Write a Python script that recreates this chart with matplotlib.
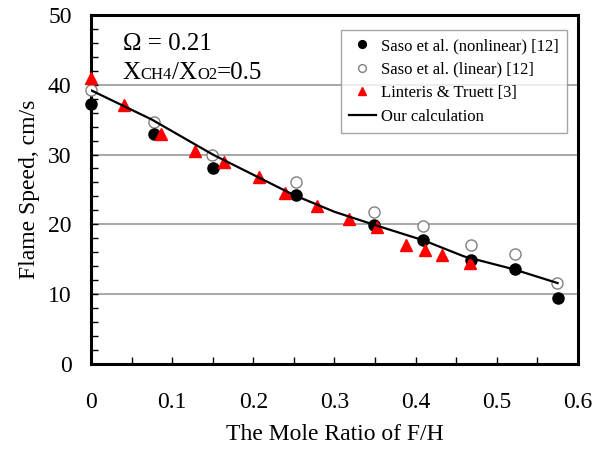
import matplotlib
matplotlib.use("Agg")
import matplotlib.pyplot as plt
from matplotlib.offsetbox import TextArea, HPacker, AnchoredOffsetbox
from matplotlib.ticker import MultipleLocator

plt.rcParams['font.family'] = ['Liberation Serif', 'DejaVu Serif']

# Saso et al. nonlinear
x_nonlin = [0.0, 0.077, 0.150, 0.252, 0.349, 0.409, 0.468, 0.522, 0.575]
y_nonlin = [37.3, 32.9, 28.0, 24.2, 19.9, 17.7, 14.9, 13.6, 9.5]

# Saso et al. linear
x_lin = [0.0, 0.078, 0.149, 0.252, 0.349, 0.409, 0.468, 0.522, 0.574]
y_lin = [39.3, 34.7, 30.0, 26.0, 21.8, 19.7, 17.0, 15.7, 11.6]

# Linteris & Truett
x_lt = [0.0, 0.040, 0.086, 0.128, 0.164, 0.207, 0.239, 0.279, 0.318, 0.353,
        0.388, 0.411, 0.433, 0.467]
y_lt = [40.9, 37.1, 33.0, 30.5, 28.9, 26.8, 24.5, 22.6, 20.7, 19.6,
        17.1, 16.4, 15.6, 14.4]

# our calculation
x_calc = [0.0, 0.075, 0.15, 0.25, 0.30, 0.35, 0.41, 0.46, 0.52, 0.575]
y_calc = [39.2, 35.0, 30.0, 24.2, 21.8, 19.9, 17.7, 15.4, 13.6, 11.6]

fig = plt.figure(figsize=(6.07, 4.5), dpi=100)
ax = fig.add_axes([0.150, 0.191, 0.802, 0.776])

ax.grid(axis='y', which='major', color='#a0a0a0', linewidth=1.3)
ax.set_axisbelow(True)

ax.plot(x_nonlin, y_nonlin, 'o', color='black', markersize=8,
        linestyle='none', label='Saso et al. (nonlinear) [12]', clip_on=False, zorder=4)
ax.plot(x_lin, y_lin, 'o', markerfacecolor='white', markeredgecolor='#808080',
        markeredgewidth=1.0, markersize=8, linestyle='none',
        label='Saso et al. (linear) [12]', clip_on=False, zorder=3)
ax.plot(x_lt, y_lt, '^', color='red', markersize=8, linestyle='none',
        label='Linteris & Truett [3]', clip_on=False, zorder=5)
ax.plot(x_calc, y_calc, '-', color='black', linewidth=1.6,
        label='Our calculation', zorder=6)

ax.set_xlim(0, 0.6)
ax.set_ylim(0, 50)
ax.xaxis.set_minor_locator(MultipleLocator(0.05))
ax.yaxis.set_major_locator(MultipleLocator(10))
ax.yaxis.set_minor_locator(MultipleLocator(2))
ax.set_xticks([0, 0.1, 0.2, 0.3, 0.4, 0.5, 0.6])
ax.set_xticklabels(['0', '0.1', '0.2', '0.3', '0.4', '0.5', '0.6'])
ax.tick_params(which='both', direction='in', length=5, width=1, labelsize=17)
ax.tick_params(axis='x', which='both', top=False, pad=20)
ax.tick_params(axis='y', which='both', right=False, pad=14)
for s in ax.spines.values():
    s.set_linewidth(2.2)

ax.set_xlabel('The Mole Ratio of F/H', fontsize=17, labelpad=8)
ax.set_ylabel('Flame Speed, cm/s', fontsize=17, labelpad=6)

leg = ax.legend(loc='upper right', bbox_to_anchor=(0.977, 0.957), fontsize=12,
                frameon=True, fancybox=False, handlelength=1.6, handletextpad=0.3,
                borderpad=0.5, labelspacing=0.45, borderaxespad=0, markerscale=0.7)
leg.get_frame().set_edgecolor('#909090')
leg.get_frame().set_linewidth(1.0)

ax.text(0.065, 0.9, 'Ω = 0.21', transform=ax.transAxes, fontsize=18)

# X_CH4/X_O2=0.5 with small-size species names on the baseline
parts = [('X', 18), ('CH4', 12), ('/X', 18), ('O2', 12), ('=0.5', 18)]
boxes = [TextArea(t, textprops=dict(fontsize=fs, family='Liberation Serif')) for t, fs in parts]
row = HPacker(children=boxes, align='baseline', pad=0, sep=0)
anch = AnchoredOffsetbox(loc='upper left', child=row, pad=0, frameon=False,
                         bbox_to_anchor=(0.065, 0.865), bbox_transform=ax.transAxes,
                         borderpad=0)
ax.add_artist(anch)

fig.savefig('out.png', dpi=100)
